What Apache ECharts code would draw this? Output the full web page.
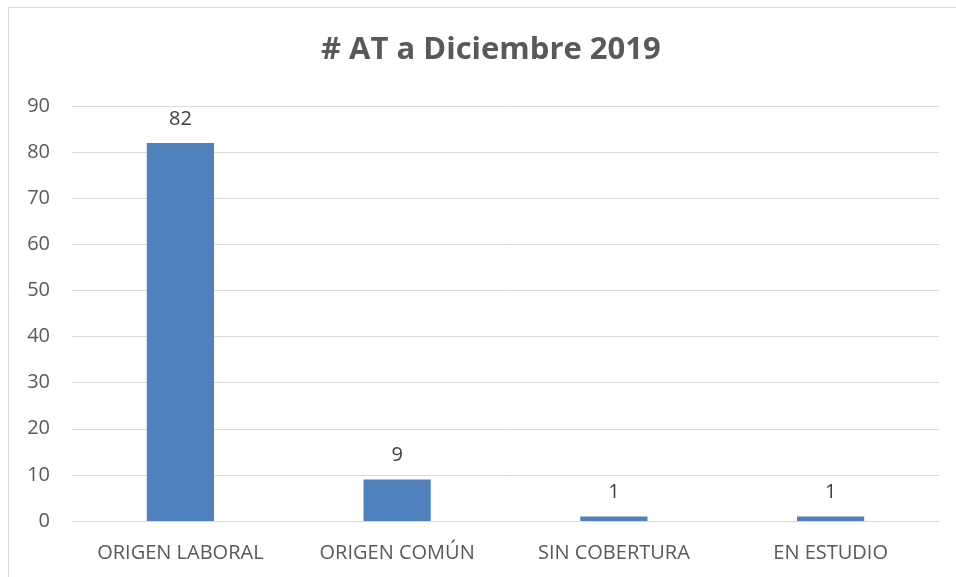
<!DOCTYPE html>
<html>
<head>
<meta charset="utf-8">
<script src="https://cdn.jsdelivr.net/npm/echarts@6/dist/echarts.min.js"></script>
<style>
  html, body { margin: 0; padding: 0; background: #fff; }
  #chart { width: 956px; height: 577px; }
</style>
</head>
<body>
<div id="chart"></div>
<script>
var categories = ["ORIGEN LABORAL", "ORIGEN COMÚN", "SIN COBERTURA", "EN ESTUDIO"];
var values = [82, 9, 1, 1];
var yTicks = { min: 0, max: 90, interval: 10 };

var chart = echarts.init(document.getElementById("chart"));

var option = {
  animation: false,
  title: {
    text: "# AT a Diciembre 2019",
    left: 316,
    top: 30,
    textStyle: {
      color: "#595959",
      fontFamily: "Open Sans",
      fontSize: 31,
      fontWeight: "bold"
    }
  },
  graphic: [
    {
      type: "rect",
      shape: { x: 8.5, y: 7.5, width: 960, height: 600 },
      style: { fill: "none", stroke: "#d9d9d9", lineWidth: 1 },
      silent: true
    }
  ],
  grid: {
    left: 72,
    right: 17,
    top: 106,
    bottom: 56,
    containLabel: false
  },
  xAxis: {
    type: "category",
    data: categories,
    axisLine: { show: true, lineStyle: { color: "#d9d9d9", width: 1 } },
    axisTick: { show: false },
    axisLabel: {
      color: "#595959",
      fontFamily: "Open Sans",
      fontSize: 20,
      margin: 22
    }
  },
  yAxis: {
    type: "value",
    min: yTicks.min,
    max: yTicks.max,
    interval: yTicks.interval,
    axisLine: { show: false },
    axisTick: { show: false },
    axisLabel: {
      color: "#595959",
      fontFamily: "Open Sans",
      fontSize: 20,
      margin: 22
    },
    splitLine: { lineStyle: { color: "#d9d9d9", width: 1 } }
  },
  series: [
    {
      type: "bar",
      data: values,
      barWidth: "31%",
      itemStyle: { color: "#4f81bd" },
      label: {
        show: true,
        position: "top",
        distance: 14,
        color: "#404040",
        fontFamily: "Open Sans",
        fontSize: 20
      }
    }
  ]
};

chart.setOption(option);
</script>
</body>
</html>
